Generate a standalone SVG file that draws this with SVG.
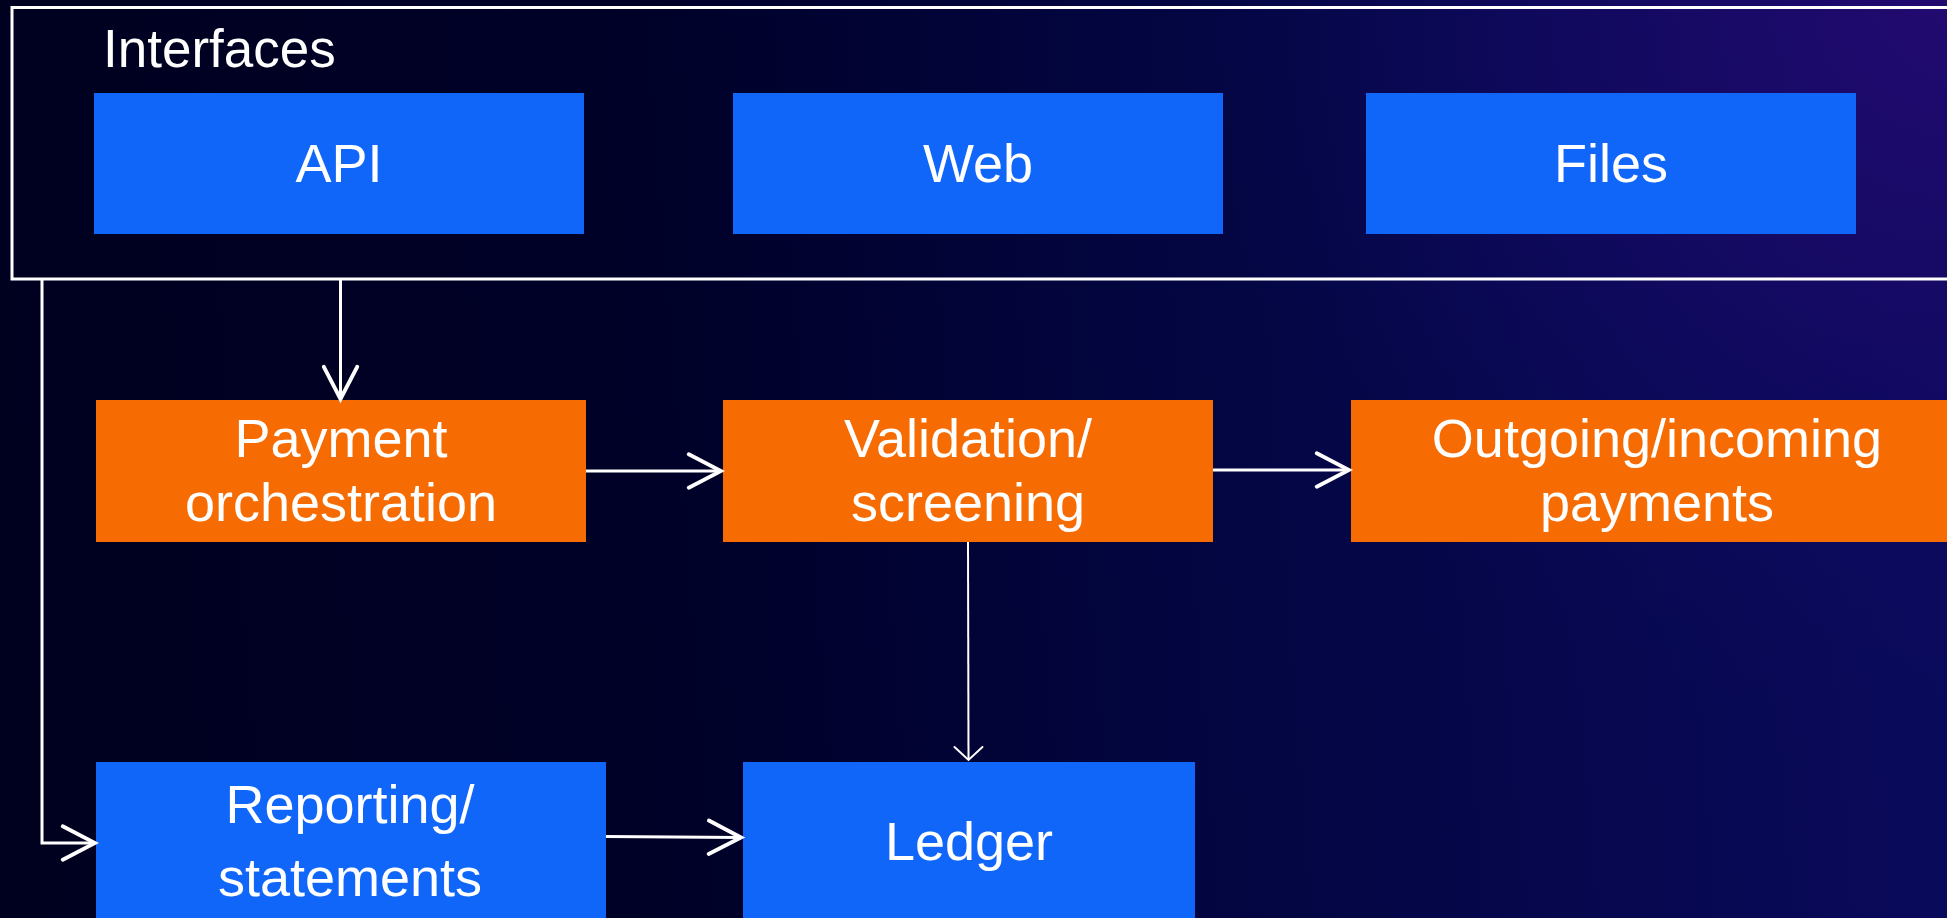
<svg xmlns="http://www.w3.org/2000/svg" width="1947" height="918" viewBox="0 0 1947 918">
  <defs>
    <linearGradient id="bg" gradientUnits="userSpaceOnUse" x1="0" y1="600" x2="1947" y2="450">
      <stop offset="0" stop-color="#00001f"/>
      <stop offset="0.35" stop-color="#000128"/>
      <stop offset="0.6" stop-color="#030540"/>
      <stop offset="1" stop-color="#0a0a5c"/>
    </linearGradient>
    <radialGradient id="glow" gradientUnits="userSpaceOnUse" cx="1947" cy="0" r="750">
      <stop offset="0" stop-color="#230a70" stop-opacity="1"/>
      <stop offset="0.5" stop-color="#180a68" stop-opacity="0.6"/>
      <stop offset="1" stop-color="#0a0a5c" stop-opacity="0"/>
    </radialGradient>
    <marker id="chev" markerUnits="userSpaceOnUse" markerWidth="40" markerHeight="40" viewBox="-32 -18 36 36" refX="0" refY="0" orient="auto">
      <path d="M-29,-15 L0,0 L-29,15" fill="none" stroke="#ffffff" stroke-width="3.5" stroke-linecap="round"/>
    </marker>
    <marker id="chev-sm" markerUnits="userSpaceOnUse" markerWidth="40" markerHeight="40" viewBox="-20 -20 24 40" refX="0" refY="0" orient="auto">
      <path d="M-13,-14 L0,0 L-13,14" fill="none" stroke="#ffffff" stroke-width="2" stroke-linecap="round"/>
    </marker>
    <style>
      .blue { fill: #1166fa; }
      .orange { fill: #f66b02; }
      .label { fill: #ffffff; font-family: "Liberation Sans", Arial, sans-serif; font-size: 54px; text-anchor: middle; }
      .title { fill: #ffffff; font-family: "Liberation Sans", Arial, sans-serif; font-size: 53px; }
      .frame { fill: none; stroke: #ffffff; stroke-width: 3; }
      .conn { fill: none; stroke: #ffffff; stroke-width: 3; marker-end: url(#chev); }
      .conn-thin { fill: none; stroke: #ffffff; stroke-width: 2; marker-end: url(#chev-sm); }
    </style>
  </defs>

  <!-- Backdrop: dark navy deepening to violet at the upper right -->
  <rect x="0" y="0" width="1947" height="918" fill="url(#bg)"/>
  <rect x="0" y="0" width="1947" height="918" fill="url(#glow)"/>

  <!-- Interfaces container -->
  <g id="interfaces">
    <rect class="frame" x="12" y="7.5" width="1960" height="271.5"/>
    <text class="title" x="103" y="67">Interfaces</text>
  </g>

  <g id="api">
    <rect class="blue" x="94" y="93" width="490" height="141"/>
    <text class="label" x="339" y="182">API</text>
  </g>
  <g id="web">
    <rect class="blue" x="733" y="93" width="490" height="141"/>
    <text class="label" x="978" y="182">Web</text>
  </g>
  <g id="files">
    <rect class="blue" x="1366" y="93" width="490" height="141"/>
    <text class="label" x="1611" y="182">Files</text>
  </g>

  <g id="payment-orchestration">
    <rect class="orange" x="96" y="400" width="490" height="142"/>
    <text class="label" x="341" y="457">Payment</text>
    <text class="label" x="341" y="521">orchestration</text>
  </g>
  <g id="validation-screening">
    <rect class="orange" x="723" y="400" width="490" height="142"/>
    <text class="label" x="968" y="457">Validation/</text>
    <text class="label" x="968" y="521">screening</text>
  </g>
  <g id="outgoing-incoming-payments">
    <rect class="orange" x="1351" y="400" width="620" height="142"/>
    <text class="label" x="1657" y="457">Outgoing/incoming</text>
    <text class="label" x="1657" y="521">payments</text>
  </g>

  <g id="reporting-statements">
    <rect class="blue" x="96" y="762" width="510" height="170"/>
    <text class="label" x="350" y="823">Reporting/</text>
    <text class="label" x="350" y="896">statements</text>
  </g>
  <g id="ledger">
    <rect class="blue" x="743" y="762" width="452" height="170"/>
    <text class="label" x="969" y="860">Ledger</text>
  </g>

  <!-- Connectors -->
  <g id="connectors">
    <path class="conn" d="M340.5,279 L340.5,399"/>
    <path class="conn" d="M42,279 L42,843 L95,843"/>
    <path class="conn" d="M586,471 L721,471"/>
    <path class="conn" d="M1213,470 L1349,470"/>
    <path class="conn-thin" d="M968,542 L968.5,760"/>
    <path class="conn" d="M606,836.5 L741,837.5"/>
  </g>
</svg>
